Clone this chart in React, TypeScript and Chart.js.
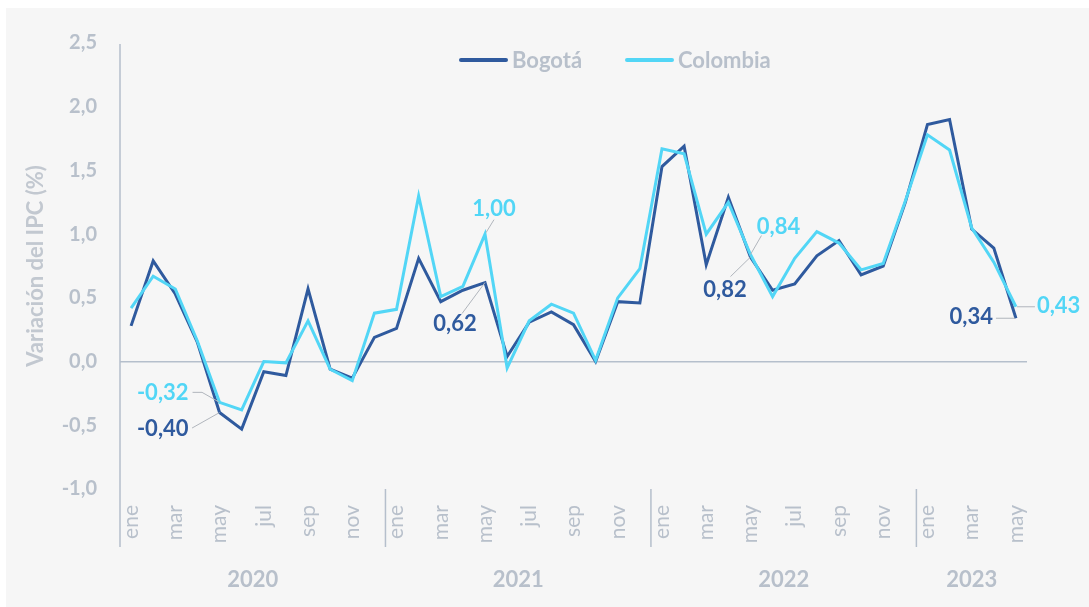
import React, { useEffect, useRef } from "react";
import { Chart, registerables } from "chart.js";

Chart.register(...registerables);

// ---------- data ----------
const monthNames = ["ene", "feb", "mar", "abr", "may", "jun", "jul", "ago", "sep", "oct", "nov", "dic"];
const years = ["2020", "2021", "2022", "2023"];
const monthsPerYear = [12, 12, 12, 5];

const bogota = [
  0.28, 0.79, 0.53, 0.15, -0.40, -0.53, -0.08, -0.11, 0.57, -0.06, -0.13, 0.19,
  0.26, 0.81, 0.47, 0.56, 0.62, 0.04, 0.31, 0.39, 0.29, 0.00, 0.47, 0.46,
  1.53, 1.69, 0.76, 1.29, 0.82, 0.56, 0.61, 0.83, 0.95, 0.68, 0.75, 1.25,
  1.86, 1.90, 1.04, 0.89, 0.34,
];
const colombia = [
  0.42, 0.67, 0.57, 0.16, -0.32, -0.38, 0.00, -0.01, 0.32, -0.06, -0.15, 0.38,
  0.41, 1.30, 0.51, 0.59, 1.00, -0.05, 0.32, 0.45, 0.38, 0.01, 0.50, 0.73,
  1.67, 1.63, 1.00, 1.25, 0.84, 0.51, 0.81, 1.02, 0.93, 0.72, 0.77, 1.26,
  1.78, 1.66, 1.05, 0.78, 0.43,
];
const seriesNames = ["Bogotá", "Colombia"];
const yMin = -1.0;
const yMax = 2.5;
const yStep = 0.5;
const yTitle = "Variación del IPC (%)";

// annotated points: [series index, point index]
const calloutPoints: [number, number][] = [
  [1, 4], [0, 4], [0, 16], [1, 16], [0, 28], [1, 28], [0, 40], [1, 40],
];

// built from the arrays above
const labels: string[] = [];
years.forEach((_, k) => {
  for (let m = 0; m < monthsPerYear[k]; m++) labels.push(monthNames[m]);
});
const seriesValues = [bogota, colombia];

// ---------- styles ----------
const FONT = "Lato, 'Noto Sans', sans-serif";
const GRAY = "#b8c0cb";
const TITLE_GRAY = "#c2c8d0";
const AXIS = "#b5bfcc";
const LEADER = "#b0b5bc";
const BLUE = "#2f5a9e";
const CYAN = "#52d6f6";
const colors = [BLUE, CYAN];

const fmt = (v: number, d: number) => v.toFixed(d).replace(".", ",");

// label placement relative to its point: align, dx, dy of text; leader path points (relative)
const calloutLayout: Record<string, { align: CanvasTextAlign; dx: number; dy: number; path: [number, number][] }> = {
  "1-4": { align: "right", dx: -31, dy: -10, path: [[-27, -10], [-17.5, -10], [0, 0]] },
  "0-4": { align: "right", dx: -31, dy: 15, path: [[-27.5, 15.5], [0, 0]] },
  "0-16": { align: "center", dx: -30, dy: 40, path: [[-23, 31], [0, 0]] },
  "1-16": { align: "center", dx: 9, dy: -26, path: [[9, -14.5], [1, -1.5]] },
  "0-28": { align: "center", dx: -25.5, dy: 31.5, path: [[-20, 19.5], [0, 0]] },
  "1-28": { align: "center", dx: 28, dy: -28.5, path: [[11, -19], [0, 0]] },
  "0-40": { align: "right", dx: -23, dy: -2, path: [[-20, 0], [-1, 0]] },
  "1-40": { align: "left", dx: 21, dy: -1.5, path: [[1, 0], [19, 0]] },
};

const extrasPlugin = {
  id: "extras",
  afterDatasetsDraw(chart: any) {
    const ctx: CanvasRenderingContext2D = chart.ctx;
    const xs = chart.scales.x;
    const ys = chart.scales.y;
    const area = chart.chartArea;
    ctx.save();

    // y-axis line (extended into the label band) and year separators
    const bandBottom = area.bottom + 58;
    ctx.strokeStyle = AXIS;
    ctx.lineWidth = 1.5;
    ctx.beginPath();
    ctx.moveTo(area.left, area.top + 1);
    ctx.lineTo(area.left, bandBottom);
    let start = 0;
    const yearCenters: number[] = [];
    monthsPerYear.forEach((n, k) => {
      const s = start;
      const e = start + n - 1;
      if (k > 0) {
        const bx = (xs.getPixelForValue(s - 1) + xs.getPixelForValue(s)) / 2;
        ctx.moveTo(bx, area.bottom);
        ctx.lineTo(bx, bandBottom);
      }
      const left = k === 0 ? area.left : (xs.getPixelForValue(s - 1) + xs.getPixelForValue(s)) / 2;
      const right = e === labels.length - 1 ? area.right : (xs.getPixelForValue(e) + xs.getPixelForValue(e + 1)) / 2;
      yearCenters.push((left + right) / 2);
      start += n;
    });
    ctx.stroke();

    // year labels
    ctx.fillStyle = GRAY;
    ctx.font = `bold 22px ${FONT}`;
    ctx.textAlign = "center";
    ctx.textBaseline = "middle";
    years.forEach((yr, k) => ctx.fillText(yr, yearCenters[k], area.bottom + 91));

    // legend
    const legendY = area.top + 17;
    const legendItems = [
      { x: 453, textX: 506 },
      { x: 619, textX: 672 },
    ];
    ctx.lineCap = "round";
    ctx.lineWidth = 4;
    seriesNames.forEach((name, i) => {
      const it = legendItems[i];
      ctx.strokeStyle = colors[i];
      ctx.beginPath();
      ctx.moveTo(it.x + 2, legendY);
      ctx.lineTo(it.x + 47, legendY);
      ctx.stroke();
      ctx.fillStyle = GRAY;
      ctx.font = `bold 22px ${FONT}`;
      ctx.textAlign = "left";
      ctx.textBaseline = "middle";
      ctx.fillText(name, it.textX, legendY + 1);
    });

    // callouts
    ctx.lineCap = "butt";
    calloutPoints.forEach(([si, pi]) => {
      const lay = calloutLayout[`${si}-${pi}`];
      const v = seriesValues[si][pi];
      const px = xs.getPixelForValue(pi);
      const py = ys.getPixelForValue(v);
      ctx.strokeStyle = LEADER;
      ctx.lineWidth = 1;
      ctx.beginPath();
      lay.path.forEach(([dx, dy], j) => {
        if (j === 0) ctx.moveTo(px + dx, py + dy);
        else ctx.lineTo(px + dx, py + dy);
      });
      ctx.stroke();
      ctx.fillStyle = colors[si];
      ctx.font = `bold 22px ${FONT}`;
      ctx.textAlign = lay.align;
      ctx.textBaseline = "middle";
      ctx.fillText(fmt(v, 2), px + lay.dx, py + lay.dy + 1);
    });

    ctx.restore();
  },
};

export default function App() {
  const canvasRef = useRef<HTMLCanvasElement | null>(null);

  useEffect(() => {
    const canvas = canvasRef.current;
    if (!canvas) return;
    const chart = new Chart(canvas, {
      type: "line",
      data: {
        labels,
        datasets: seriesNames.map((name, i) => ({
          label: name,
          data: seriesValues[i],
          borderColor: colors[i],
          backgroundColor: colors[i],
          borderWidth: 3,
          pointRadius: 0,
          pointHoverRadius: 0,
          tension: 0,
          fill: false,
          order: i === 1 ? 0 : 1,
        })),
      },
      options: {
        animation: false,
        responsive: false,
        events: [],
        layout: { padding: { top: 31, right: 62, left: 0, bottom: 0 } },
        plugins: {
          legend: { display: false },
          tooltip: { enabled: false },
          title: { display: false },
        },
        scales: {
          x: {
            type: "category",
            offset: true,
            grid: { display: false, drawTicks: false },
            border: { display: false },
            ticks: {
              autoSkip: false,
              minRotation: 90,
              maxRotation: 90,
              padding: 16,
              color: GRAY,
              font: { family: FONT, size: 21, weight: "normal" },
              callback: function (this: any, val: any, index: number) {
                return index % 2 === 0 ? labels[index] : "";
              },
            },
            afterFit: (scale: any) => {
              scale.height = 118;
            },
          },
          y: {
            min: yMin,
            max: yMax,
            grid: {
              drawTicks: false,
              color: (c: any) => (c.tick && Math.abs(c.tick.value) < 1e-9 ? AXIS : "rgba(0,0,0,0)"),
              lineWidth: 1.5,
            },
            border: { display: false },
            ticks: {
              stepSize: yStep,
              padding: 23,
              color: GRAY,
              font: { family: FONT, size: 20, weight: "bold" },
              callback: (v: any) => fmt(Number(v), 1),
            },
            title: {
              display: true,
              text: yTitle,
              color: TITLE_GRAY,
              font: { family: FONT, size: 22, weight: "bold" },
              padding: { top: 17, bottom: 0 },
            },
            afterFit: (scale: any) => {
              scale.width = 114;
            },
          },
        },
      },
      plugins: [extrasPlugin],
    });
    return () => chart.destroy();
  }, []);

  return (
    <div
      style={{
        position: "absolute",
        left: 6,
        top: 8,
        width: 1083,
        height: 599,
        background: "#f6f6f6",
      }}
    >
      <canvas ref={canvasRef} width={1083} height={599} style={{ display: "block" }} />
    </div>
  );
}
